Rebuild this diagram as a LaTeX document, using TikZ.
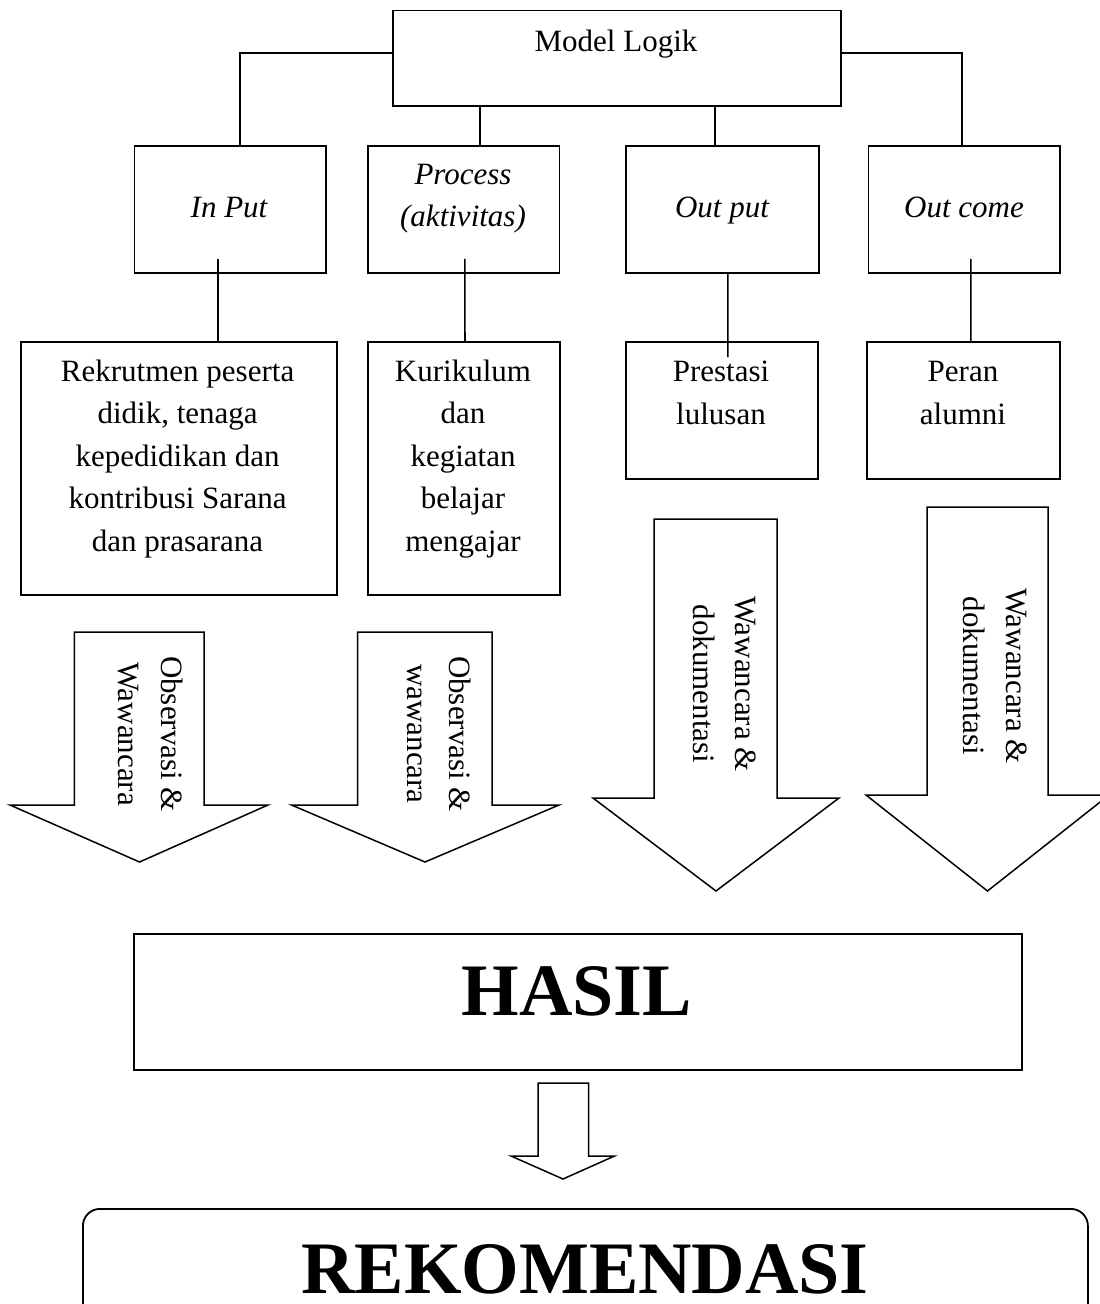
\documentclass[tikz,border=0pt]{standalone}
\usepackage{fontspec}
\setmainfont{Liberation Serif}
\begin{document}
\begin{tikzpicture}[x=1pt,y=-1pt,
  box/.style={draw,line width=1.8pt,inner sep=0pt,anchor=north west},
  txt/.style={inner sep=0pt,font=\fontsize{31}{42.5}\selectfont,align=center},
  ital/.style={txt,font=\fontsize{31}{42.5}\selectfont\itshape},
  big/.style={inner sep=0pt,font=\fontsize{74}{80}\selectfont\bfseries,anchor=base},
  conn/.style={line width=1.6pt},
  blockarrow/.style={draw,fill=white,line width=1.5pt,line join=miter}]
\useasboundingbox (0,0) rectangle (1100,1304);
\clip (0,0) rectangle (1100,1304);

% boxes
\node[box,minimum width=448pt,minimum height=95.5pt] (ml) at (392,9.5) {};
\node[box,minimum width=191.5pt,minimum height=127pt] (in) at (133.5,145) {};
\node[box,minimum width=191.5pt,minimum height=127pt] (pr) at (367,145) {};
\node[box,minimum width=193pt,minimum height=127pt] (op) at (625,145) {};
\node[box,minimum width=191.5pt,minimum height=127pt] (oc) at (867.5,145) {};
\node[box,minimum width=316pt,minimum height=253pt] (rek) at (20.3,341) {};
\node[box,minimum width=192pt,minimum height=253pt] (kur) at (366.7,341) {};
\node[box,minimum width=192.3pt,minimum height=137pt] (pres) at (624.7,341) {};
\node[box,minimum width=192.7pt,minimum height=137pt] (peran) at (866,341) {};
\node[box,minimum width=888pt,minimum height=136pt] (hasil) at (133,933) {};
\node[box,rounded corners=17pt,minimum width=1005pt,minimum height=160pt] (rekom) at (82,1208) {};

% connectors
\draw[conn] ([yshift=5pt]ml.west) -| ([xshift=10pt]in.north);
\draw[conn] ([yshift=5pt]ml.east) -| ([xshift=-2pt]oc.north);
\draw[conn] ([xshift=-137pt]ml.south) -- ([xshift=16.25pt]pr.north);
\draw[conn] ([xshift=98pt]ml.south) -- ([xshift=-7.5pt]op.north);
\draw[conn] ([xshift=-12.25pt,yshift=15pt]in.south) -- ([xshift=38.7pt]rek.north);
\draw[conn] ([xshift=1.25pt,yshift=15pt]pr.south) -- ([xshift=1.35pt]kur.north);
\draw[conn] ([xshift=5.5pt]op.south) -- ([xshift=6.15pt,yshift=-16pt]pres.north);
\draw[conn] ([xshift=6.75pt,yshift=15pt]oc.south) -- ([xshift=7.65pt]peran.north);

% block arrows
\draw[blockarrow] (74.4,632) -- (204,632) -- (204,805) -- (268,805) -- (139.5,862) -- (10,805) -- (74.4,805) -- cycle;
\draw[blockarrow] (357.6,632) -- (492,632) -- (492,805) -- (559,805) -- (425,862) -- (291.5,805) -- (357.6,805) -- cycle;
\draw[blockarrow] (654,519) -- (777,519) -- (777,798) -- (839,798) -- (716,891) -- (593,798) -- (654,798) -- cycle;
\draw[blockarrow] (927,507) -- (1048,507) -- (1048,795) -- (1109,795) -- (987.5,891) -- (866,795) -- (927,795) -- cycle;
\draw[blockarrow] (538,1083) -- (588.5,1083) -- (588.5,1156) -- (614.5,1156) -- (563,1179) -- (511,1156) -- (538,1156) -- cycle;

% texts
\node[txt,anchor=base] (tml) at (616,51) {Model Logik};
\node[ital,anchor=base] (tin) at (229,217) {In Put};
\node[ital,anchor=north] (tpr) at (463,160) {\rule{0pt}{24pt}Process\\(aktivitas)};
\node[ital,anchor=base] (top) at (722,217) {Out put};
\node[ital,anchor=base] (toc) at (964,217) {Out come};
\node[txt,anchor=north] (trek) at (177.6,357) {\rule{0pt}{24pt}Rekrutmen peserta\\didik, tenaga\\kepedidikan dan\\kontribusi Sarana\\dan prasarana};
\node[txt,anchor=north] (tkur) at (463,357) {\rule{0pt}{24pt}Kurikulum\\dan\\kegiatan\\belajar\\mengajar};
\node[txt,anchor=north,font=\fontsize{31}{43.5}\selectfont] (tpres) at (721,357) {\rule{0pt}{24pt}Prestasi\\lulusan};
\node[txt,anchor=north,font=\fontsize{31}{43.5}\selectfont] (tperan) at (963,357) {\rule{0pt}{24pt}Peran\\alumni};

\node[txt,rotate=-90,anchor=north] (ta1) at (185.5,734) {\rule{0pt}{24pt}Observasi \&\\Wawancara};
\node[txt,rotate=-90,anchor=north] (ta2) at (474,734) {\rule{0pt}{24pt}Observasi \&\\wawancara};
\node[txt,rotate=-90,anchor=north] (ta3) at (760,684) {\rule{0pt}{24pt}Wawancara \&\\dokumentasi};
\node[txt,rotate=-90,anchor=north] (ta4) at (1030.6,676) {\rule{0pt}{24pt}Wawancara \&\\dokumentasi};

\node[big] (thasil) at (577,1015) {HASIL};
\node[big] (trekom) at (585,1293) {REKOMENDASI};
\end{tikzpicture}
\end{document}
